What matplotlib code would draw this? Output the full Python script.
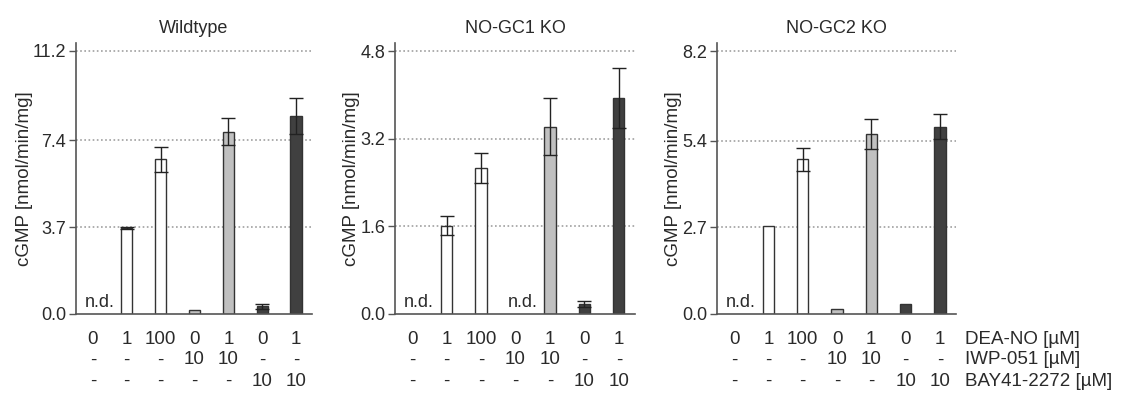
import matplotlib
matplotlib.use("Agg")
import matplotlib.pyplot as plt
import matplotlib.transforms as mtransforms
import numpy as np

plt.rcParams['font.family'] = ['Liberation Sans', 'DejaVu Sans']

titles = ["Wildtype", "NO-GC1 KO", "NO-GC2 KO"]
yticks = [[0.0, 3.7, 7.4, 11.2], [0.0, 1.6, 3.2, 4.8], [0.0, 2.7, 5.4, 8.2]]
ytick_labels = [["0.0", "3.7", "7.4", "11.2"], ["0.0", "1.6", "3.2", "4.8"], ["0.0", "2.7", "5.4", "8.2"]]

# values per panel (None = not detected)
wt_vals = [None, 3.65, 6.58, 0.15, 7.77, 0.32, 8.43]
wt_err = [0, 0.05, 0.55, 0.0, 0.57, 0.12, 0.75]
gc1_vals = [None, 1.61, 2.66, None, 3.42, 0.175, 3.94]
gc1_err = [0, 0.17, 0.27, 0, 0.52, 0.055, 0.55]
gc2_vals = [None, 2.74, 4.82, 0.165, 5.61, 0.32, 5.84]
gc2_err = [0, 0.0, 0.35, 0.0, 0.47, 0.0, 0.39]

bar_colors = ["white", "white", "white", "#c0c0c0", "#c0c0c0", "#404040", "#404040"]

dea_no = ["0", "1", "100", "0", "1", "0", "1"]
iwp = ["-", "-", "-", "10", "10", "-", "-"]
bay = ["-", "-", "-", "-", "-", "10", "10"]
row_labels = ["DEA-NO [µM]", "IWP-051 [µM]", "BAY41-2272 [µM]"]

W, H = 1121, 394
fig = plt.figure(figsize=(W / 100, H / 100), dpi=100)

panel_px = [(76, 312), (395, 635), (717, 956)]
top_px, bot_px = 43, 314
row_y_px = [339, 360, 381]

vals_all = [wt_vals, gc1_vals, gc2_vals]
errs_all = [wt_err, gc1_err, gc2_err]
txt_color = "#2a2a2a"
spine_color = "#555555"

for i, (l, r) in enumerate(panel_px):
    ax = fig.add_axes([l / W, 1 - bot_px / H, (r - l) / W, (bot_px - top_px) / H])
    ymax = yticks[i][-1]
    y_top = ymax * (bot_px - top_px) / (bot_px - 51)
    vals = vals_all[i]
    errs = errs_all[i]
    for gy in yticks[i][1:]:
        ax.axhline(gy, color="#a0a0a0", linestyle=(0, (1, 1.5)), linewidth=1.2, zorder=0)
    for k in range(7):
        if vals[k] is None:
            ax.text(k + 0.2, ymax * 0.012, "n.d.", ha="center", va="bottom",
                    fontsize=13, color=txt_color)
            continue
        ax.bar(k, vals[k], width=0.33, color=bar_colors[k], edgecolor="#333333",
               linewidth=1.0, zorder=2)
        if errs[k] > 0:
            ax.errorbar(k, vals[k], yerr=errs[k], fmt="none", ecolor="#222222",
                        elinewidth=1.0, capsize=5, capthick=1.0, zorder=3)
    ax.set_xlim(-0.5, 6.47)
    ax.set_ylim(0, y_top)
    ax.set_yticks(yticks[i])
    ax.set_yticklabels(ytick_labels[i])
    ax.set_xticks([])
    ax.tick_params(axis="y", labelsize=13, colors=spine_color, labelcolor=txt_color,
                   length=5, width=1.0, pad=2)
    for s in ["top", "right"]:
        ax.spines[s].set_visible(False)
    for s in ["left", "bottom"]:
        ax.spines[s].set_color(spine_color)
        ax.spines[s].set_linewidth(1.2)
    ax.set_title(titles[i], fontsize=13, color=txt_color, pad=7)
    ax.set_ylabel("cGMP [nmol/min/mg]", fontsize=13.5, color=txt_color, labelpad=0)

    # treatment table below each panel
    blend = mtransforms.blended_transform_factory(ax.transData, fig.transFigure)
    for row, labels in enumerate([dea_no, iwp, bay]):
        for k in range(7):
            ax.text(k, 1 - row_y_px[row] / H, labels[k], transform=blend,
                    ha="center", va="center", fontsize=13.5, color=txt_color,
                    clip_on=False)

for row, lab in enumerate(row_labels):
    fig.text(965 / W, 1 - row_y_px[row] / H, lab, ha="left", va="center",
             fontsize=13.5, color=txt_color)

fig.savefig("out.png", dpi=100)
